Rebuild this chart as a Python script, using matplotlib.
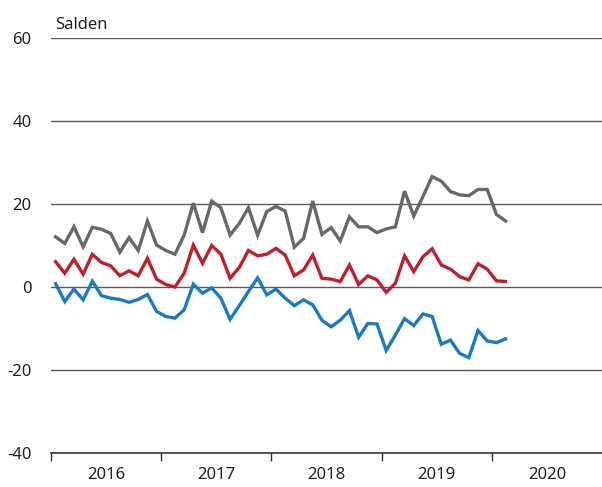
import matplotlib as mpl
import matplotlib.pyplot as plt
import numpy as np

mpl.rcParams['font.family'] = ['Noto Sans', 'DejaVu Sans']

# Monthly balances, Jan 2016 - Feb 2020
YEARS = ['2016', '2017', '2018', '2019', '2020']
Y_TICKS = [-40, -20, 0, 20, 40, 60]

grey_series = [12.1, 10.5, 14.5, 9.7, 14.4, 13.9, 12.9, 8.4, 11.9, 8.8,
               15.9, 10.1, 8.8, 7.9, 12.5, 20.2, 13.1, 20.7, 19.1, 12.5,
               15.3, 19.1, 12.5, 18.2, 19.4, 18.3, 9.6, 11.7, 20.7, 12.7,
               14.3, 11.1, 16.9, 14.5, 14.5, 13.1, 14.0, 14.5, 23.1, 17.1,
               21.8, 26.6, 25.5, 23.0, 22.2, 22.0, 23.5, 23.5, 17.5, 15.9]

red_series = [6.1, 3.3, 6.7, 3.1, 7.9, 5.9, 5.1, 2.7, 3.9, 2.7,
              6.9, 1.9, 0.6, 0.0, 3.3, 10.1, 5.7, 10.0, 7.9, 2.1,
              4.7, 8.8, 7.5, 7.9, 9.3, 7.7, 2.7, 4.1, 7.7, 2.1,
              1.9, 1.3, 5.3, 0.6, 2.7, 1.7, -1.3, 0.9, 7.5, 3.7,
              7.3, 9.2, 5.3, 4.3, 2.5, 1.7, 5.6, 4.3, 1.5, 1.3]

blue_series = [0.8, -3.5, -0.5, -3.1, 1.4, -2.1, -2.7, -3.0, -3.7, -3.0,
               -1.8, -5.9, -7.1, -7.5, -5.5, 0.7, -1.5, -0.2, -2.7, -7.8,
               -4.5, -1.1, 2.2, -1.9, -0.5, -2.7, -4.5, -3.1, -4.3, -8.0,
               -9.6, -8.0, -5.7, -12.1, -8.8, -8.9, -15.3, -11.6, -7.6, -9.3,
               -6.5, -7.1, -13.8, -12.8, -16.0, -17.0, -10.5, -13.0, -13.4, -12.5]

fig = plt.figure(figsize=(6.02, 4.87), dpi=100)
ax = fig.add_axes([0.0847, 0.0698, 0.9153, 0.8522])

months = np.arange(len(grey_series)) + 0.5
ax.plot(months, grey_series, color='#686868', lw=2.4, solid_joinstyle='miter')
ax.plot(months, red_series, color='#c0202e', lw=2.4, solid_joinstyle='miter')
ax.plot(months, blue_series, color='#1a7bc4', lw=2.4, solid_joinstyle='miter')

ax.set_xlim(0, 12 * len(YEARS))
ax.set_ylim(-40, 60)

# gridlines
for y in Y_TICKS[1:]:
    ax.axhline(y, color='#5a5a5a', lw=1.0, zorder=0)

ax.set_yticks(Y_TICKS)
ax.set_yticklabels([str(v).replace('-', '-') for v in Y_TICKS], fontsize=12, color='#222222')
ax.tick_params(axis='y', length=0, pad=14)

ax.set_xticks(np.arange(0, 12 * len(YEARS), 12))
ax.set_xticklabels([])
ax.set_xticks(np.arange(6, 12 * len(YEARS), 12), minor=True)
ax.set_xticklabels(YEARS, minor=True, fontsize=12, color='#222222')
ax.tick_params(axis='x', which='major', length=6, width=1.0, color='#333333', direction='out')
ax.tick_params(axis='x', which='minor', length=0, pad=10)

for s in ['top', 'right', 'left']:
    ax.spines[s].set_visible(False)
ax.spines['bottom'].set_color('#333333')
ax.spines['bottom'].set_linewidth(1.2)

ax.text(0.008, 1.012, 'Salden', transform=ax.transAxes, fontsize=12,
        color='#222222', ha='left', va='bottom')

fig.savefig('out.png', dpi=100)
